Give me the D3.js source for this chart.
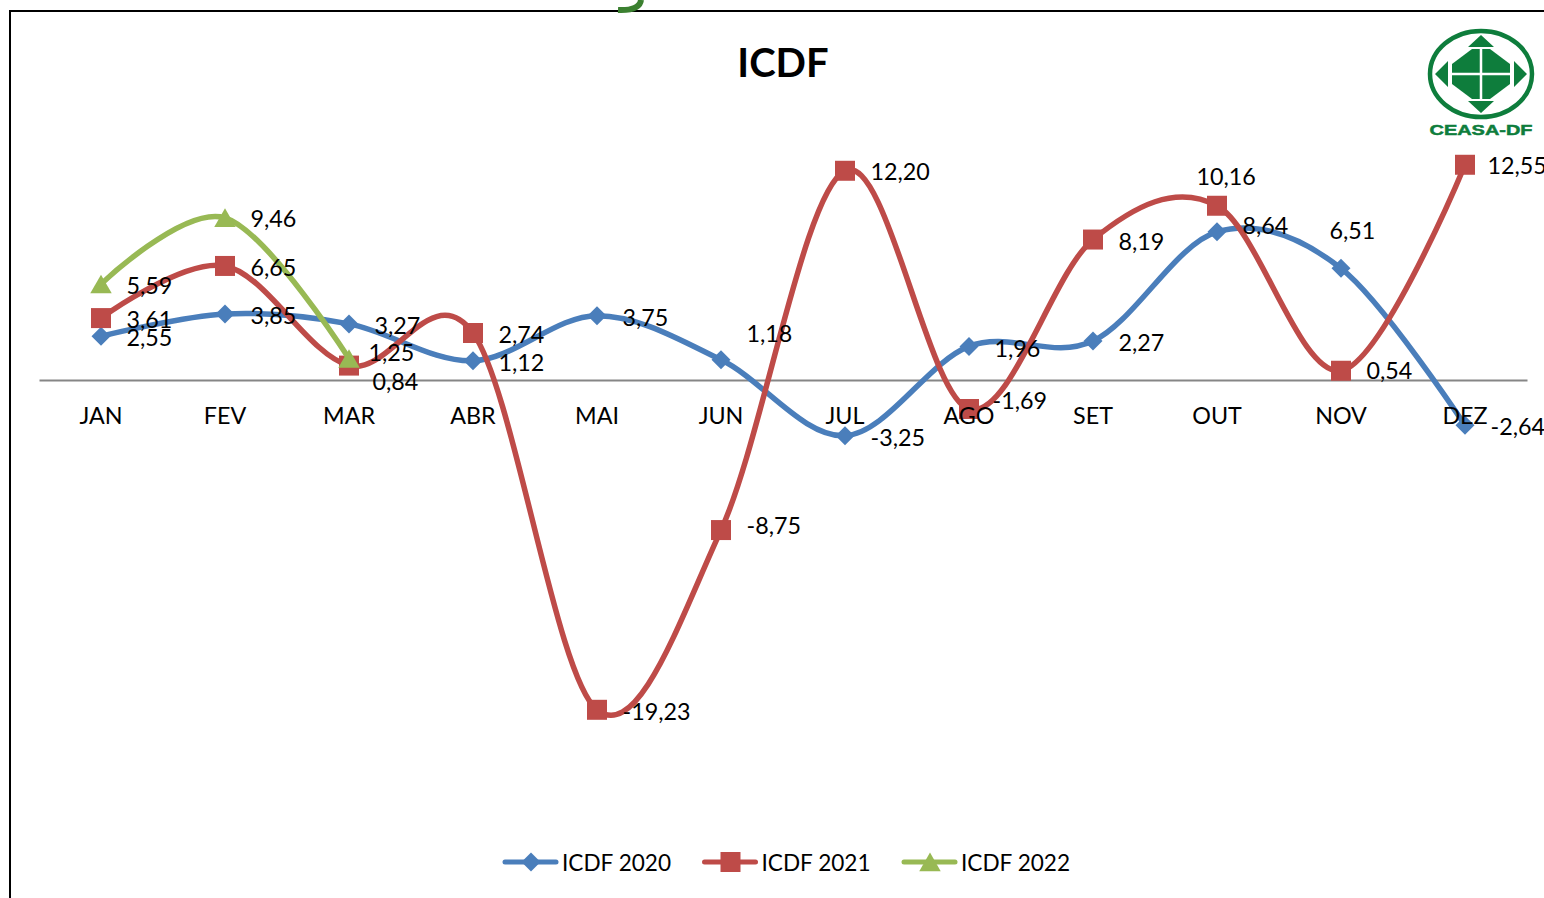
<!DOCTYPE html>
<html>
<head>
<meta charset="utf-8">
<title>ICDF</title>
<script src="https://cdn.jsdelivr.net/npm/d3@7"></script>
<style>
  html, body { margin: 0; padding: 0; background: #fff; overflow: hidden; }
  svg { display: block; font-family: Lato, "Open Sans", sans-serif; }
</style>
</head>
<body>
<svg id="chart" width="1544" height="898"></svg>
<script>
const months = ['JAN', 'FEV', 'MAR', 'ABR', 'MAI', 'JUN', 'JUL', 'AGO', 'SET', 'OUT', 'NOV', 'DEZ']
const icdf2020 = [2.55, 3.85, 3.27, 1.12, 3.75, 1.18, -3.25, 1.96, 2.27, 8.64, 6.51, -2.64]
const icdf2021 = [3.61, 6.65, 0.84, 2.74, -19.23, -8.75, 12.20, -1.69, 8.19, 10.16, 0.54, 12.55]
const icdf2022 = [5.59, 9.46, 1.25]
const seriesNames = ['ICDF 2020', 'ICDF 2021', 'ICDF 2022']

// hand moved data labels, [dx, dy] from the default spot right of the marker
const nudge2020 = {JUN: [0, -28], OUT: [0, -8], NOV: [-37, -40]}
const nudge2021 = {MAR: [-2, 14], JUN: [0, -6], JUL: [0, -1], AGO: [-2, -10], OUT: [-46, -31], NOV: [0, -2], DEZ: [-3, -1]}
const nudge2022 = {FEV: [0, -1], MAR: [-6, -8]}

const svg = d3.select('#chart')
const fontSize = 23.3

const x = d3.scaleBand().domain(months).range([39, 1527])
const y = d3.scaleLinear().domain([-20, 15]).range([723, 122.75])
const xPos = m => x(m) + x.bandwidth() / 2
const fmt = d3.formatLocale({decimal: ',', thousands: '.', grouping: [3], currency: ['', ''], minus: '-'}).format('.2f')

const series = [
  {name: seriesNames[0], values: icdf2020, color: '#4a7ebb', symbol: d3.symbolDiamond2, size: 230, shift: 0, nudge: nudge2020},
  {name: seriesNames[1], values: icdf2021, color: '#be4b48', symbol: d3.symbolSquare, size: 400, shift: 0, nudge: nudge2021},
  {name: seriesNames[2], values: icdf2022, color: '#98b954', symbol: d3.symbolTriangle, size: 200, shift: 3, nudge: nudge2022}
]

// frame, runs off the right and bottom of the page
svg.append('path')
  .attr('d', 'M10,898V11H1544')
  .attr('fill', 'none')
  .attr('stroke', '#000')
  .attr('stroke-width', 2)

// bit of the page heading that pokes in above the frame
svg.append('path')
  .attr('d', 'M618,10C630,10.5 640,8 641,0')
  .attr('fill', 'none')
  .attr('stroke', '#3b8030')
  .attr('stroke-width', 6)

svg.append('text')
  .attr('x', 783)
  .attr('y', 77)
  .attr('text-anchor', 'middle')
  .attr('font-size', 40)
  .attr('font-weight', 700)
  .attr('fill', '#000')
  .text('ICDF')

// axis line sits under the series, month names go over them (see AGO, DEZ)
const axisLine = svg.append('g')
  .attr('transform', `translate(0,${y(0)})`)
  .call(d3.axisBottom(x).tickSize(0).tickFormat(''))
axisLine.selectAll('.tick').remove()
axisLine.select('.domain').attr('stroke', '#868686').attr('stroke-width', 2)

const line = d3.line()
  .x((d, i) => xPos(months[i]))
  .y(d => y(d))
  .curve(d3.curveCardinal.tension(0))

function symbolAt (g, s, tx, ty) {
  g.append('path')
    .attr('d', d3.symbol(s.symbol, s.size)())
    .attr('transform', `translate(${tx},${ty + s.shift})`)
    .attr('fill', s.color)
}

series.forEach(s => {
  svg.append('path')
    .attr('d', line(s.values))
    .attr('fill', 'none')
    .attr('stroke', s.color)
    .attr('stroke-width', 5.5)
    .attr('stroke-linecap', 'round')
  const g = svg.append('g')
  s.values.forEach((v, i) => symbolAt(g, s, xPos(months[i]), y(v)))
})

const axisLabels = svg.append('g')
  .attr('transform', `translate(0,${y(0)})`)
  .call(d3.axisBottom(x).tickSize(0).tickPadding(27))
axisLabels.select('.domain').remove()
axisLabels.selectAll('text')
  .attr('font-family', 'Lato, "Open Sans", sans-serif')
  .attr('font-size', fontSize)
  .attr('fill', '#000')

// labels go on last so they sit over all the lines
series.forEach(s => {
  s.values.forEach((v, i) => {
    const [dx, dy] = s.nudge[months[i]] || [0, 0]
    svg.append('text')
      .attr('x', xPos(months[i]) + 25.5 + dx)
      .attr('y', y(v) + 2 + dy)
      .attr('dy', '0.35em')
      .attr('font-size', fontSize)
      .attr('fill', '#000')
      .text(fmt(v))
  })
})

// legend
const legendX = d3.scalePoint().domain(seriesNames).range([503, 902])
series.forEach(s => {
  const lx = legendX(s.name)
  const g = svg.append('g')
  g.append('line')
    .attr('x1', lx + 2).attr('x2', lx + 53)
    .attr('y1', 862).attr('y2', 862)
    .attr('stroke', s.color)
    .attr('stroke-width', 5)
    .attr('stroke-linecap', 'round')
  symbolAt(g, s, lx + 28, 862)
  g.append('text')
    .attr('x', lx + 59)
    .attr('y', 863)
    .attr('dy', '0.35em')
    .attr('font-size', 22.6)
    .attr('fill', '#000')
    .text(s.name)
})

// CEASA-DF logo
const logoGreen = '#0e7d3c'
const logo = svg.append('g').attr('transform', 'translate(1481,74)')
logo.append('ellipse')
  .attr('rx', 51).attr('ry', 43)
  .attr('fill', 'none')
  .attr('stroke', logoGreen)
  .attr('stroke-width', 4.5)
logo.append('path')
  .attr('d', 'M0,-39L13,-27H-13Z M0,39L13,27H-13Z M-46,0L-33,-13V13Z M46,0L33,-13V13Z')
  .attr('fill', logoGreen)
logo.append('path')
  .attr('d', 'M-9,-25H9L29,-10V10L9,25H-9L-29,10V-10Z')
  .attr('fill', logoGreen)
logo.append('path')
  .attr('d', 'M0,-27V27M-31,0H31')
  .attr('stroke', '#fff')
  .attr('stroke-width', 2.5)
logo.append('text')
  .attr('x', 0)
  .attr('y', 61)
  .attr('text-anchor', 'middle')
  .attr('font-family', '"Liberation Sans", sans-serif')
  .attr('font-size', 15.5)
  .attr('font-weight', 700)
  .attr('textLength', 103)
  .attr('lengthAdjust', 'spacingAndGlyphs')
  .attr('fill', logoGreen)
  .attr('stroke', logoGreen)
  .attr('stroke-width', 0.5)
  .text('CEASA-DF')
</script>
</body>
</html>
